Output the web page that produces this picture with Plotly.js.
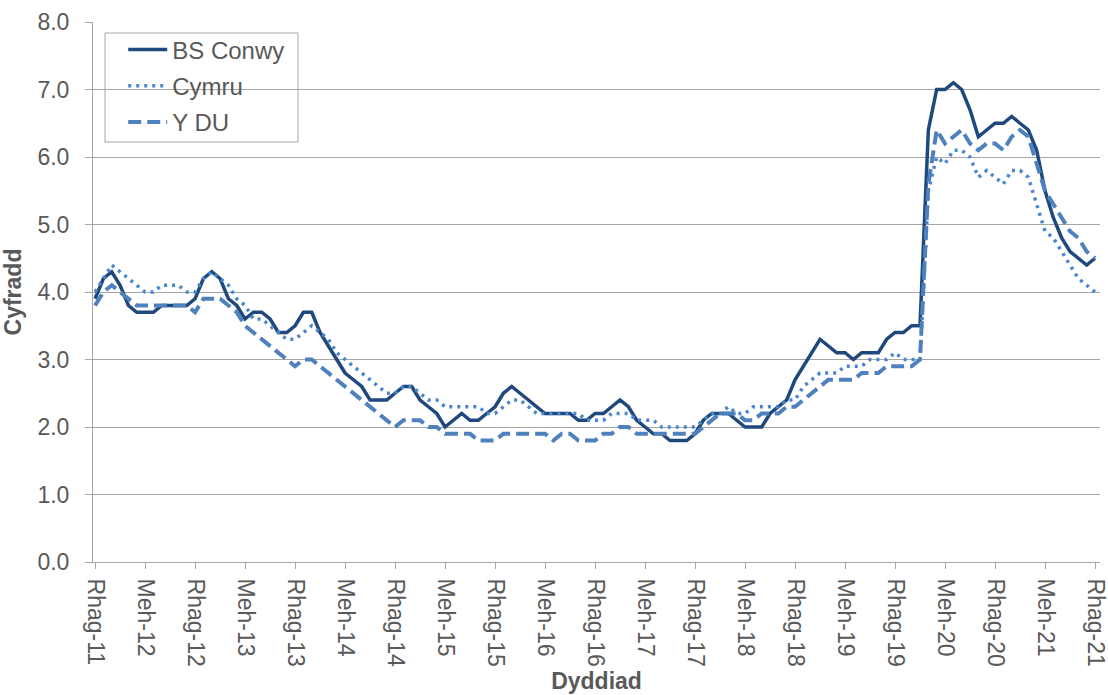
<!DOCTYPE html>
<html>
<head>
<meta charset="utf-8">
<script src="https://cdn.plot.ly/plotly-3.0.1.min.js"></script>
<style>html,body{margin:0;padding:0;background:#fff;}#chart{width:1108px;height:695px;}</style>
</head>
<body>
<div id="chart"></div>
<script>
// Monthly categories Dec 2011 .. Dec 2021
const startYear = 2011, startMonth = 12, nMonths = 121;
const months = [];
for (let i = 0; i < nMonths; i++) {
  const mm = (startMonth - 1 + i) % 12 + 1;
  const yy = startYear + Math.floor((startMonth - 1 + i) / 12);
  months.push(yy + "-" + (mm < 10 ? "0" + mm : mm));
}

const tickLabels = ["Rhag-11","Meh-12","Rhag-12","Meh-13","Rhag-13","Meh-14","Rhag-14","Meh-15","Rhag-15","Meh-16","Rhag-16","Meh-17","Rhag-17","Meh-18","Rhag-18","Meh-19","Rhag-19","Meh-20","Rhag-20","Meh-21","Rhag-21"];

const bsConwy = [3.9,4.2,4.3,4.1,3.8,3.7,3.7,3.7,3.8,3.8,3.8,3.8,3.9,4.2,4.3,4.2,3.9,3.8,3.6,3.7,
3.7,3.6,3.4,3.4,3.5,3.7,3.7,3.4,3.2,3.0,2.8,2.7,2.6,2.4,2.4,2.4,2.5,2.6,2.6,2.4,
2.3,2.2,2.0,2.1,2.2,2.1,2.1,2.2,2.3,2.5,2.6,2.5,2.4,2.3,2.2,2.2,2.2,2.2,2.1,2.1,
2.2,2.2,2.3,2.4,2.3,2.1,2.0,1.9,1.9,1.8,1.8,1.8,1.9,2.1,2.2,2.2,2.2,2.1,2.0,2.0,
2.0,2.2,2.3,2.4,2.7,2.9,3.1,3.3,3.2,3.1,3.1,3.0,3.1,3.1,3.1,3.3,3.4,3.4,3.5,3.5,
6.4,7.0,7.0,7.1,7.0,6.7,6.3,6.4,6.5,6.5,6.6,6.5,6.4,6.1,5.5,5.1,4.8,4.6,4.5,4.4,
4.5];

const cymru = [4.0,4.2,4.4,4.3,4.2,4.1,4.0,4.0,4.1,4.1,4.1,4.0,4.0,4.2,4.3,4.2,4.1,3.9,3.8,3.6,
3.6,3.5,3.4,3.3,3.3,3.4,3.5,3.4,3.3,3.1,3.0,2.9,2.8,2.7,2.6,2.5,2.5,2.6,2.6,2.5,
2.4,2.4,2.3,2.3,2.3,2.3,2.3,2.2,2.2,2.3,2.4,2.4,2.3,2.2,2.2,2.2,2.2,2.2,2.2,2.1,
2.1,2.1,2.2,2.2,2.2,2.1,2.1,2.1,2.0,2.0,2.0,2.0,2.0,2.1,2.2,2.2,2.3,2.2,2.2,2.3,
2.3,2.3,2.3,2.4,2.4,2.6,2.7,2.8,2.8,2.8,2.9,2.9,2.9,3.0,3.0,3.0,3.1,3.0,3.0,3.0,
5.5,6.0,5.9,6.1,6.1,6.0,5.7,5.8,5.7,5.6,5.8,5.8,5.7,5.3,4.9,4.8,4.6,4.4,4.2,4.1,
4.0];

const yDU = [3.8,4.0,4.1,4.0,3.9,3.8,3.8,3.8,3.8,3.8,3.8,3.8,3.7,3.9,3.9,3.9,3.8,3.7,3.5,3.4,
3.3,3.2,3.1,3.0,2.9,3.0,3.0,2.9,2.8,2.7,2.6,2.5,2.4,2.3,2.2,2.1,2.0,2.1,2.1,2.1,
2.0,2.0,1.9,1.9,1.9,1.9,1.8,1.8,1.8,1.9,1.9,1.9,1.9,1.9,1.9,1.8,1.9,1.9,1.8,1.8,
1.8,1.9,1.9,2.0,2.0,1.9,1.9,1.9,1.9,1.9,1.9,1.9,1.9,2.0,2.1,2.2,2.2,2.2,2.1,2.1,
2.2,2.2,2.2,2.3,2.3,2.4,2.5,2.6,2.7,2.7,2.7,2.7,2.8,2.8,2.8,2.9,2.9,2.9,2.9,3.0,
5.6,6.4,6.2,6.3,6.4,6.2,6.1,6.2,6.2,6.1,6.3,6.4,6.3,5.9,5.5,5.3,5.1,4.9,4.8,4.6,
4.5];

const tickVals = tickLabels.map((_, i) => months[i * 6]);

const font = "Liberation Sans, Arial, sans-serif";
const grey = "#595959";
const traces = [
  {x: months, y: bsConwy, name: "BS Conwy", mode: "lines", legendgroup: "a",
   line: {color: "#1f497d", width: 3.5}},
  {x: months, y: cymru, name: "Cymru", mode: "lines", legendgroup: "b",
   line: {color: "#4a86cf", width: 3.5, dash: "3px,5px"}},
  {x: months, y: yDU, name: "Y DU", mode: "lines", legendgroup: "c",
   line: {color: "#4f81bd", width: 4, dash: "13px,6px"}}
];

const layout = {
  width: 1108, height: 695,
  margin: {l: 93, r: 8, t: 22, b: 133},
  paper_bgcolor: "#ffffff", plot_bgcolor: "#ffffff",
  font: {family: font, size: 23, color: grey},
  showlegend: true,
  legend: {x: 0.03, y: 0.99, xanchor: "left", yanchor: "top",
    borderwidth: 0, bgcolor: "rgba(255,255,255,0)",
    font: {family: font, size: 24, color: grey},
    itemwidth: 39,
    traceorder: "grouped", tracegroupgap: 2},
  shapes: [
    {type: "rect", xref: "paper", yref: "paper",
     x0: (105 - 93) / 1007, x1: (298 - 93) / 1007,
     y0: (562 - 142) / 540, y1: (562 - 33) / 540,
     line: {color: "#a6a6a6", width: 1}, fillcolor: "#ffffff", layer: "below"}
  ],
  xaxis: {
    type: "category",
    range: [-0.25, 120.6],
    tickvals: tickVals, ticktext: tickLabels,
    tickangle: 90,
    ticks: "outside", ticklen: 6, tickcolor: "#a6a6a6",
    ticklabelstandoff: 5,
    showgrid: false, zeroline: false,
    showline: true, linecolor: "#a6a6a6", linewidth: 1,
    tickfont: {family: font, size: 23, color: grey},
    title: {text: "<b>Dyddiad</b>", font: {family: font, size: 23, color: grey}, standoff: 6}
  },
  yaxis: {
    range: [0, 8], dtick: 1, tick0: 0, tickformat: ".1f",
    ticks: "outside", ticklen: 7, tickcolor: "#a6a6a6",
    ticklabelstandoff: 11,
    showgrid: true, gridcolor: "#a6a6a6", gridwidth: 1,
    zeroline: false,
    showline: true, linecolor: "#a6a6a6", linewidth: 1,
    tickfont: {family: font, size: 23, color: grey},
    title: {text: "<b>Cyfradd</b>", font: {family: font, size: 23, color: grey}, standoff: 9}
  }
};

Plotly.newPlot("chart", traces, layout, {staticPlot: true, displayModeBar: false});
</script>
</body>
</html>
